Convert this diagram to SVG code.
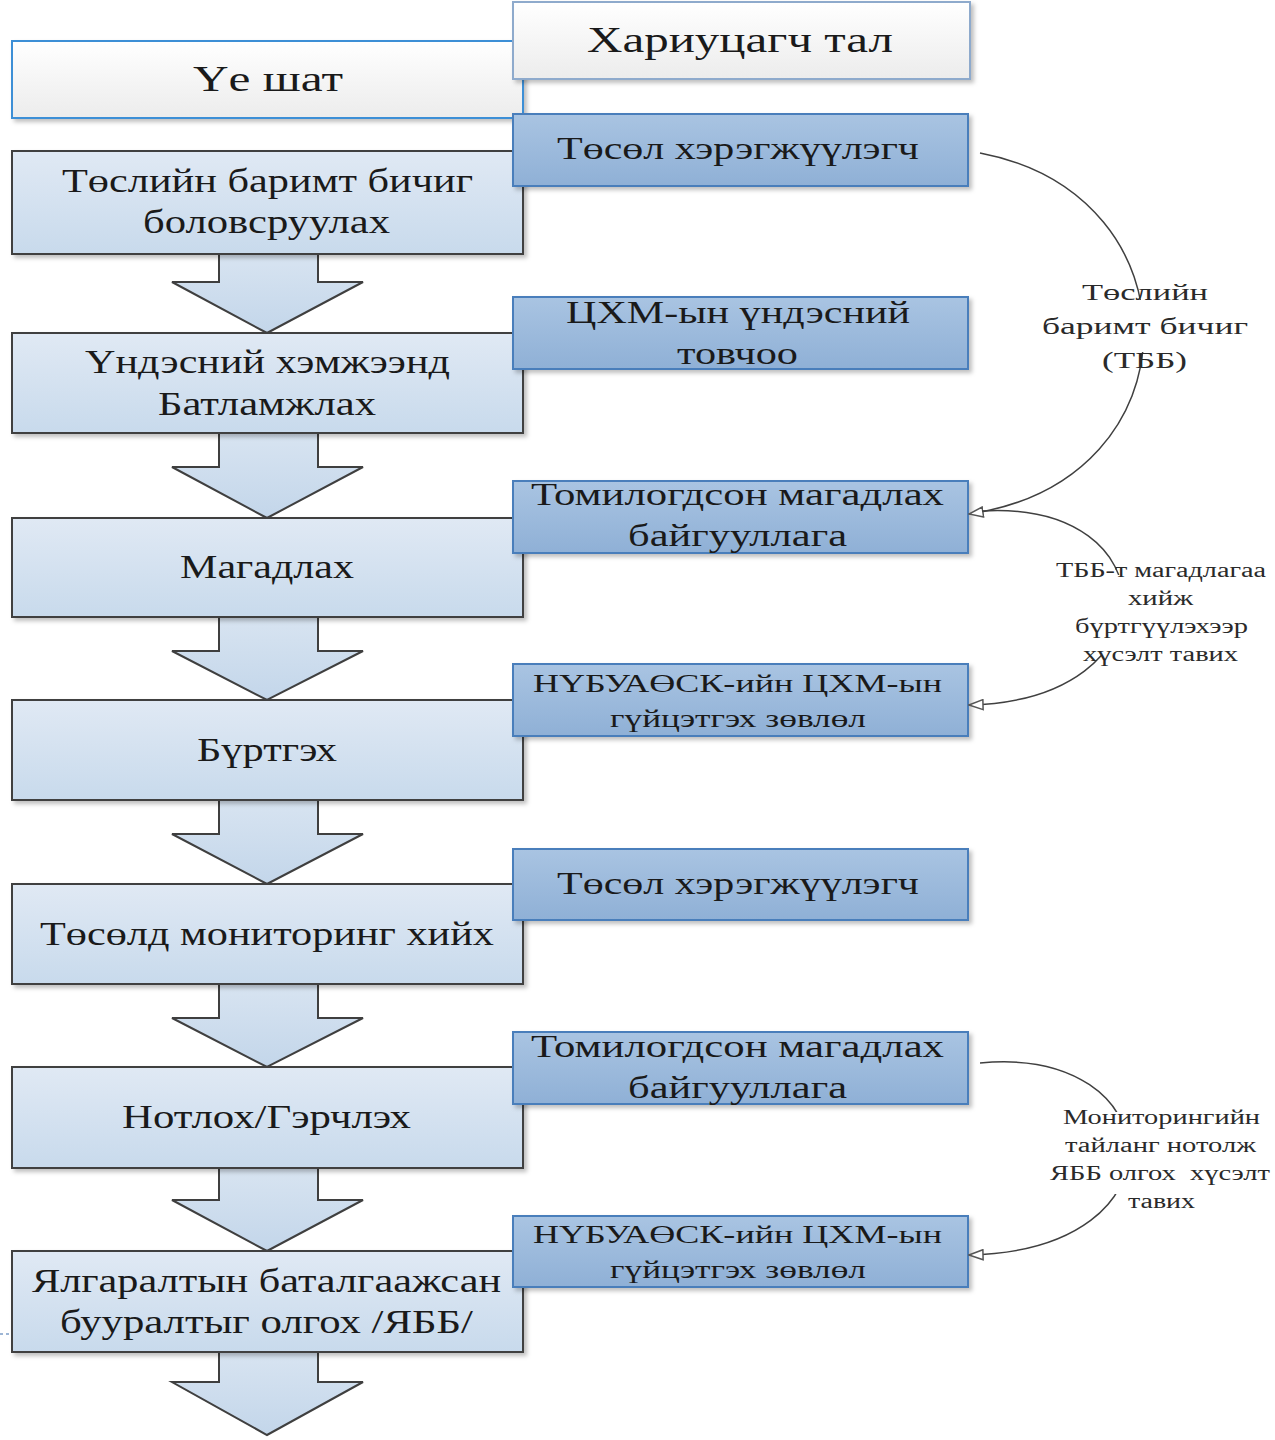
<svg xmlns="http://www.w3.org/2000/svg" width="1275" height="1440" viewBox="0 0 1275 1440">
<defs>
<linearGradient id="gStage" x1="0" y1="0" x2="0" y2="1"><stop offset="0" stop-color="#e0e9f4"/><stop offset="1" stop-color="#c8daec"/></linearGradient>
<linearGradient id="gActor" x1="0" y1="0" x2="0" y2="1"><stop offset="0" stop-color="#a9c4e2"/><stop offset="1" stop-color="#8fb0d6"/></linearGradient>
<linearGradient id="gHead" x1="0" y1="0" x2="0" y2="1"><stop offset="0" stop-color="#ffffff"/><stop offset="1" stop-color="#ececec"/></linearGradient>
<linearGradient id="gArrow" x1="0" y1="0" x2="0" y2="1"><stop offset="0" stop-color="#d8e4f1"/><stop offset="1" stop-color="#c3d6ea"/></linearGradient>
<filter id="sh" x="-5%" y="-10%" width="115%" height="130%"><feDropShadow dx="3" dy="3" stdDeviation="2" flood-color="#000" flood-opacity="0.25"/></filter>
<marker id="open" viewBox="0 0 16 12" refX="15" refY="6" markerWidth="16" markerHeight="12" markerUnits="userSpaceOnUse" orient="auto"><path d="M1,1 L15,6 L1,11 Z" fill="#fff" stroke="#555" stroke-width="1.5"/></marker>
</defs>
<style>
.stage{fill:url(#gStage);stroke:#3f3f3f;stroke-width:2;filter:url(#sh)}
.actor{fill:url(#gActor);stroke:#4a7ebb;stroke-width:2;filter:url(#sh)}
.arrow{fill:url(#gArrow);stroke:#3f3f3f;stroke-width:2}
.t{font-family:"Liberation Serif","Times New Roman",serif;fill:#1a1a1a}
.s34{font-size:34px}
.s32{font-size:32px}
.s26{font-size:26px}
.s36{font-size:36px}
.lbl{font-family:"Liberation Serif","Times New Roman",serif;fill:#2a2a2a}
.conn{fill:none;stroke:#404040;stroke-width:1.5}
</style>
<rect width="1275" height="1440" fill="#fff"/>

<g id="flow-arrows">
<path class="arrow" d="M219,253 L219,282 L172,282 L267,333 L363,282 L318,282 L318,253"/>
<path class="arrow" d="M219,432 L219,467 L172,467 L267,518 L363,467 L318,467 L318,432"/>
<path class="arrow" d="M219,616 L219,651 L172,651 L267,700 L363,651 L318,651 L318,616"/>
<path class="arrow" d="M219,799 L219,834 L172,834 L267,884 L363,834 L318,834 L318,799"/>
<path class="arrow" d="M219,983 L219,1018 L172,1018 L267,1067 L363,1018 L318,1018 L318,983"/>
<path class="arrow" d="M219,1167 L219,1200 L172,1200 L267,1251 L363,1200 L318,1200 L318,1167"/>
<path class="arrow" d="M219,1351 L219,1382 L172,1382 L267,1435 L363,1382 L318,1382 L318,1351"/>
</g>

<g id="header-stage">
<rect x="12" y="41" width="511" height="77" fill="url(#gHead)" stroke="#3d8fd6" stroke-width="2" filter="url(#sh)"/>
<text class="t s36" x="193" y="91" textLength="150" lengthAdjust="spacingAndGlyphs">Үе шат</text>
</g>
<g id="header-actor">
<rect x="513" y="2" width="457" height="77" fill="url(#gHead)" stroke="#8eaacc" stroke-width="2" filter="url(#sh)"/>
<text class="t s36" x="587" y="52" textLength="306" lengthAdjust="spacingAndGlyphs">Хариуцагч тал</text>
</g>

<g id="stage1">
<rect class="stage" x="12" y="151" width="511" height="103"/>
<text class="t s34" x="62" y="192" textLength="411" lengthAdjust="spacingAndGlyphs">Төслийн баримт бичиг</text>
<text class="t s34" x="143" y="233" textLength="247" lengthAdjust="spacingAndGlyphs">боловсруулах</text>
</g>
<g id="stage2">
<rect class="stage" x="12" y="333" width="511" height="100"/>
<text class="t s34" x="85" y="373" textLength="365" lengthAdjust="spacingAndGlyphs">Үндэсний хэмжээнд</text>
<text class="t s34" x="158" y="415" textLength="218" lengthAdjust="spacingAndGlyphs">Батламжлах</text>
</g>
<g id="stage3">
<rect class="stage" x="12" y="518" width="511" height="99"/>
<text class="t s34" x="180" y="578" textLength="174" lengthAdjust="spacingAndGlyphs">Магадлах</text>
</g>
<g id="stage4">
<rect class="stage" x="12" y="700" width="511" height="100"/>
<text class="t s34" x="197" y="761" textLength="140" lengthAdjust="spacingAndGlyphs">Бүртгэх</text>
</g>
<g id="stage5">
<rect class="stage" x="12" y="884" width="511" height="100"/>
<text class="t s34" x="40" y="945" textLength="454" lengthAdjust="spacingAndGlyphs">Төсөлд мониторинг хийх</text>
</g>
<g id="stage6">
<rect class="stage" x="12" y="1067" width="511" height="101"/>
<text class="t s34" x="122" y="1128" textLength="289" lengthAdjust="spacingAndGlyphs">Нотлох/Гэрчлэх</text>
</g>
<g id="stage7">
<rect class="stage" x="12" y="1251" width="511" height="101"/>
<text class="t s34" x="32" y="1292" textLength="469" lengthAdjust="spacingAndGlyphs">Ялгаралтын баталгаажсан</text>
<text class="t s34" x="60" y="1333" textLength="413" lengthAdjust="spacingAndGlyphs">бууралтыг олгох /ЯББ/</text>
</g>

<g id="actor1">
<rect class="actor" x="513" y="114" width="455" height="72"/>
<text class="t s32" x="557" y="159" textLength="362" lengthAdjust="spacingAndGlyphs">Төсөл хэрэгжүүлэгч</text>
</g>
<g id="actor2">
<rect class="actor" x="513" y="297" width="455" height="72"/>
<text class="t s32" x="566" y="323" textLength="344" lengthAdjust="spacingAndGlyphs">ЦХМ-ын үндэсний</text>
<text class="t s32" x="677" y="364" textLength="121" lengthAdjust="spacingAndGlyphs">товчоо</text>
</g>
<g id="actor3">
<rect class="actor" x="513" y="481" width="455" height="72"/>
<text class="t s32" x="531" y="505" textLength="413" lengthAdjust="spacingAndGlyphs">Томилогдсон магадлах</text>
<text class="t s32" x="628" y="546" textLength="219" lengthAdjust="spacingAndGlyphs">байгууллага</text>
</g>
<g id="actor4">
<rect class="actor" x="513" y="664" width="455" height="72"/>
<text class="t s26" x="533" y="692" textLength="409" lengthAdjust="spacingAndGlyphs">НҮБУАӨСК-ийн ЦХМ-ын</text>
<text class="t s26" x="610" y="727" textLength="256" lengthAdjust="spacingAndGlyphs">гүйцэтгэх зөвлөл</text>
</g>
<g id="actor5">
<rect class="actor" x="513" y="849" width="455" height="71"/>
<text class="t s32" x="557" y="894" textLength="362" lengthAdjust="spacingAndGlyphs">Төсөл хэрэгжүүлэгч</text>
</g>
<g id="actor6">
<rect class="actor" x="513" y="1032" width="455" height="72"/>
<text class="t s32" x="531" y="1057" textLength="413" lengthAdjust="spacingAndGlyphs">Томилогдсон магадлах</text>
<text class="t s32" x="628" y="1098" textLength="219" lengthAdjust="spacingAndGlyphs">байгууллага</text>
</g>
<g id="actor7">
<rect class="actor" x="513" y="1216" width="455" height="71"/>
<text class="t s26" x="533" y="1243" textLength="409" lengthAdjust="spacingAndGlyphs">НҮБУАӨСК-ийн ЦХМ-ын</text>
<text class="t s26" x="610" y="1278" textLength="256" lengthAdjust="spacingAndGlyphs">гүйцэтгэх зөвлөл</text>
</g>

<g id="connectors">
<path class="conn" d="M980,153 C1200,195 1200,480 969,514" marker-end="url(#open)"/>
<path class="conn" d="M982,511 C1170,500 1175,700 969,705" marker-end="url(#open)"/>
<path class="conn" d="M980,1063 C1170,1045 1190,1250 969,1255" marker-end="url(#open)"/>
<rect x="1040" y="300" width="212" height="52" fill="#fff"/>
<rect x="1052" y="575" width="216" height="80" fill="#fff"/>
<rect x="1048" y="1112" width="224" height="82" fill="#fff"/>
<text class="lbl" font-size="24" x="1082" y="300" textLength="126" lengthAdjust="spacingAndGlyphs">Төслийн</text>
<text class="lbl" font-size="24" x="1042" y="334" textLength="206" lengthAdjust="spacingAndGlyphs">баримт бичиг</text>
<text class="lbl" font-size="24" x="1102" y="368" textLength="85" lengthAdjust="spacingAndGlyphs">(ТББ)</text>
<text class="lbl" font-size="20" x="1056" y="577" textLength="210" lengthAdjust="spacingAndGlyphs">ТББ-т магадлагаа</text>
<text class="lbl" font-size="20" x="1128" y="605" textLength="65" lengthAdjust="spacingAndGlyphs">хийж</text>
<text class="lbl" font-size="20" x="1075" y="633" textLength="173" lengthAdjust="spacingAndGlyphs">бүртгүүлэхээр</text>
<text class="lbl" font-size="20" x="1083" y="661" textLength="155" lengthAdjust="spacingAndGlyphs">хүсэлт тавих</text>
<text class="lbl" font-size="20" x="1063" y="1124" textLength="197" lengthAdjust="spacingAndGlyphs">Мониторингийн</text>
<text class="lbl" font-size="20" x="1065" y="1152" textLength="191" lengthAdjust="spacingAndGlyphs">тайланг нотолж</text>
<text class="lbl" font-size="20" x="1050" y="1180" textLength="220" lengthAdjust="spacingAndGlyphs" xml:space="preserve">ЯББ олгох  хүсэлт</text>
<text class="lbl" font-size="20" x="1128" y="1208" textLength="67" lengthAdjust="spacingAndGlyphs">тавих</text>
</g>
<line x1="0" y1="1334" x2="12" y2="1334" stroke="#7f9fc8" stroke-width="1.5" stroke-dasharray="3,3"/>
</svg>
